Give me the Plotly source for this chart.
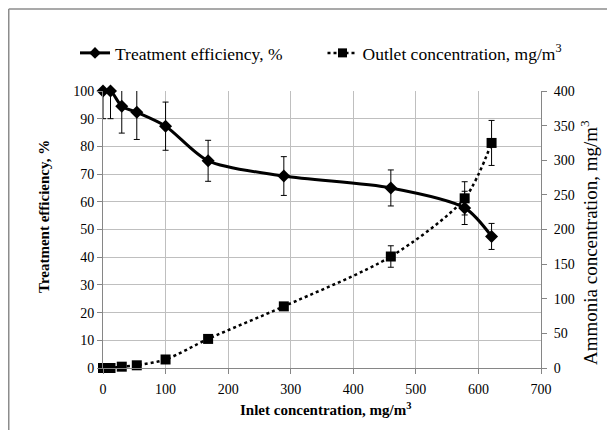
import plotly.graph_objects as go

# Data
inlet = [0, 12, 30, 54, 100, 168, 289, 460, 578, 621]
efficiency = [100, 100, 94.5, 92.3, 87.3, 74.8, 69.3, 65.0, 57.8, 47.5]
efficiency_err = [10, 10, 9.7, 9.8, 8.7, 7.4, 7.0, 6.5, 6.0, 4.7]
outlet = [0, 0, 1.9, 3.9, 12.3, 42, 89, 161, 245, 325]
outlet_err = [0, 0, 0, 0, 1, 2, 5, 15.5, 24, 32.5]

x_ticks = [0, 100, 200, 300, 400, 500, 600, 700]
y_ticks = [0, 10, 20, 30, 40, 50, 60, 70, 80, 90, 100]
y2_ticks = [0, 50, 100, 150, 200, 250, 300, 350, 400]

FONT = "Liberation Serif"
GRID = "#BFBFBF"
AXIS = "#868686"
OFF = 8  # page offset of the figure inside the window

L, T = 103 - OFF, 91 - OFF
R, B = 615 - 541 + OFF, 430 - 368 + OFF
PW, PH = 615 - L - R, 430 - T - B


def px(page_x):
    return (page_x - OFF - L) / PW


def py(page_y):
    return (430 - B - (page_y - OFF)) / PH


fig = go.Figure()

fig.add_trace(go.Scatter(
    x=inlet, y=efficiency, mode="lines", line=dict(color="black", width=3, shape="spline", smoothing=0.8),
    error_y=dict(type="data", array=efficiency_err, color="black", thickness=1, width=3),
    showlegend=False, cliponaxis=True, hoverinfo="skip"))
fig.add_trace(go.Scatter(
    x=inlet, y=efficiency, mode="markers",
    marker=dict(symbol="diamond", size=10, color="black"),
    showlegend=False, cliponaxis=False))

fig.add_trace(go.Scatter(
    x=inlet, y=outlet, yaxis="y2", mode="lines",
    line=dict(color="black", width=2.5, dash="dot", shape="spline", smoothing=0.8),
    error_y=dict(type="data", array=outlet_err, color="black", thickness=1, width=3),
    showlegend=False, cliponaxis=True, hoverinfo="skip"))
fig.add_trace(go.Scatter(
    x=inlet, y=outlet, yaxis="y2", mode="markers",
    marker=dict(symbol="square", size=10, color="black"),
    showlegend=False, cliponaxis=False))

fig.add_trace(go.Scatter(
    x=[None], y=[None], mode="lines+markers", name="Treatment efficiency, %" + "&nbsp;" * 8,
    line=dict(color="black", width=3), marker=dict(symbol="diamond", size=9, color="black")))
fig.add_trace(go.Scatter(
    x=[None], y=[None], mode="lines+markers", name="Outlet concentration, mg/m<sup>3</sup>",
    line=dict(color="black", width=2.5, dash="dot"), marker=dict(symbol="square", size=9, color="black")))

axis_common = dict(showline=True, linecolor=AXIS, linewidth=1, ticks="outside", ticklen=5,
                   tickcolor=AXIS, zeroline=False, tickfont=dict(size=14))

fig.update_layout(
    width=615, height=430,
    margin=dict(l=L, r=R, t=T, b=B, autoexpand=False),
    paper_bgcolor="white", plot_bgcolor="white",
    font=dict(family=FONT, size=14, color="black"),
    showlegend=True,
    legend=dict(orientation="h", xref="paper", yref="paper", x=px(75), y=py(53),
                xanchor="left", yanchor="middle", font=dict(size=17.5, family=FONT),
                bgcolor="rgba(0,0,0,0)"),
    xaxis=dict(range=[0, 700], tickvals=x_ticks, showgrid=True, gridcolor=GRID, gridwidth=1,
               ticklabelstandoff=3, **axis_common),
    yaxis=dict(range=[0, 100], tickvals=y_ticks, showgrid=True, gridcolor=GRID, gridwidth=1,
               **axis_common),
    yaxis2=dict(range=[0, 400], tickvals=y2_ticks, overlaying="y", side="right", showgrid=False,
                ticklabelstandoff=4, **axis_common),
    annotations=[
        dict(text="<b>Inlet concentration, mg/m<sup>3</sup></b>", xref="paper", yref="paper",
             x=px(325), y=py(409), xanchor="center", yanchor="middle", showarrow=False,
             font=dict(size=15)),
        dict(text="<b>Treatment efficiency, %</b>", xref="paper", yref="paper", textangle=-90,
             x=px(44), y=py(217), xanchor="center", yanchor="middle", showarrow=False,
             font=dict(size=15)),
        dict(text="Ammonia concentration, mg/m<sup>3</sup>", xref="paper", yref="paper", textangle=-90,
             x=px(589), y=py(243), xanchor="center", yanchor="middle", showarrow=False,
             font=dict(size=19)),
    ],
    shapes=[
        dict(type="line", xref="paper", yref="paper", x0=(-L + 0.75) / PW, x1=(-L + 0.75) / PW,
             y0=-B / PH - 0.1, y1=(PH + T - 1) / PH, line=dict(color="#8C8C8C", width=1.5)),
        dict(type="line", xref="paper", yref="paper", x0=(-L + 0.75) / PW, x1=(615 - L + 10) / PW,
             y0=(PH + T - 1) / PH, y1=(PH + T - 1) / PH, line=dict(color="#8C8C8C", width=1.5)),
    ],
)

fig.write_html("out.html")
